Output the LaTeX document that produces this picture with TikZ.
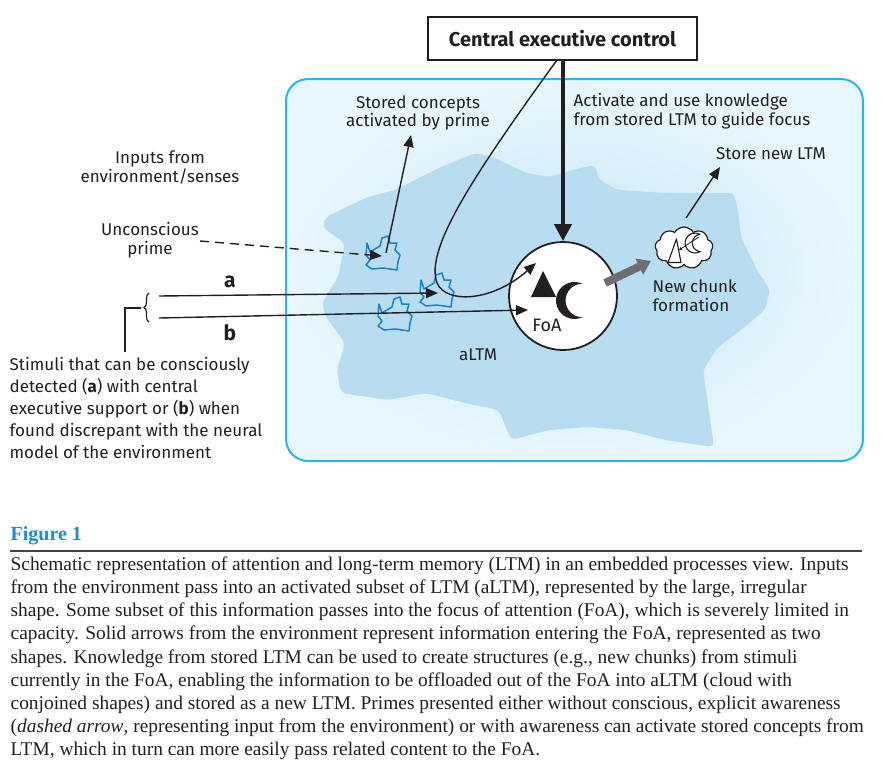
\documentclass[tikz,border=0pt]{standalone}
\usepackage{fontspec}
\setmainfont{Liberation Serif}
\newfontfamily\labelfont{Fira Sans}
\usetikzlibrary{arrows.meta, shapes.symbols, decorations.pathreplacing, positioning, calc}

\definecolor{boxcyan}{RGB}{43,181,232}
\definecolor{boxouter}{RGB}{232,247,253}
\definecolor{boxinner}{RGB}{200,230,246}
\definecolor{blobblue}{RGB}{184,220,240}
\definecolor{primeblue}{RGB}{27,132,198}
\definecolor{inkdark}{RGB}{35,31,32}
\definecolor{figblue}{RGB}{29,140,205}
\definecolor{chunkgray}{RGB}{109,110,112}

\begin{document}
\begin{tikzpicture}[
    x=1pt, y=-1pt,
    line width=1.3pt,
    every node/.style={inner sep=1pt, text=inkdark},
    lbl/.style={font=\labelfont\fontsize{17}{18.8}\selectfont, align=center},
    ceobox/.style={draw=inkdark, line width=1.5pt, minimum width=269pt, minimum height=43pt,
                   fill=white, font=\labelfont\bfseries\fontsize{20}{22}\selectfont},
    foacircle/.style={draw=inkdark, circle, line width=1.8pt, fill=white, minimum size=108pt, inner sep=0pt},
    chunkcloud/.style={draw=inkdark, cloud, cloud puffs=9, cloud puff arc=120, fill=white,
                       line width=1.2pt, minimum width=58pt, minimum height=42pt, inner sep=0pt},
    arrow/.style={draw=inkdark, -{Triangle[length=12pt, width=10pt]}, line width=1.4pt},
    dashedarrow/.style={arrow, dashed, dash pattern=on 9pt off 6pt},
    thickarr/.style={draw=inkdark, -{Triangle[length=17pt, width=17pt]}, line width=4pt},
    grayarr/.style={draw=chunkgray, -{Triangle[length=13pt, width=17pt]}, line width=8pt},
    primeline/.style={draw=primeblue, line width=1.5pt, line join=round},
    primeshape/.pic={
      \draw[primeline] (-16,-11) -- (-13,-2) -- (-3,-8) -- (-1,-16) -- (5,-18) -- (7,-11)
        -- (14,-11) -- (12,-4) -- (17,1) -- (15,8) -- (14,16) -- (0,14) -- (-11,15)
        -- (-17,11) -- (-13,6) -- (-17,1) -- cycle;
    }
]
\useasboundingbox (0,0) rectangle (884,774);

% ================= Background: LTM box and aLTM blob =================
\shade[inner color=boxinner, outer color=boxouter, rounded corners=22pt]
    (286,79) rectangle (863,461);
\draw[draw=boxcyan, line width=2pt, rounded corners=22pt] (286,79) rectangle (863,461);

\fill[blobblue, rounded corners=5pt]
    (326,217) -- (368,197) -- (395,190) -- (441,167) -- (476,153) -- (495,158)
    -- (526,173) -- (549,177) -- (580,168) -- (595,165) -- (599,180) -- (618,190)
    -- (665,193) -- (734,193) -- (738,210) -- (741,237) -- (757,270) -- (770,290)
    -- (765,310) -- (741,330) -- (718,347) -- (703,370) -- (707,397) -- (714,447)
    -- (665,440) -- (626,430) -- (588,427) -- (549,430) -- (511,440) -- (499,410)
    -- (465,403) -- (426,393) -- (388,400) -- (341,393) -- (337,370) -- (345,343)
    -- (326,317) -- (322,303) -- (338,277) -- (345,243) -- (322,227) -- cycle;

% ================= Labels =================
\node[ceobox] (ceo) at (562.5,38.5) {Central executive control};
\node[lbl] (stored) at (418,113) {Stored concepts\\activated by prime};
\node[lbl, align=left, anchor=west] (activate) at (572,111.5) {Activate and use knowledge\\from stored LTM to guide focus};
\node[lbl] (storenew) at (771,154) {Store new LTM};
\node[lbl] (inputs) at (160,167.5) {Inputs from\\environment/senses};
\node[lbl] (unconscious) at (150,240) {Unconscious\\prime};
\node[lbl, align=left, anchor=west] (newchunk) at (651,296) {New chunk\\formation};
\node[lbl] (altm) at (478,355) {aLTM};
\node[lbl, font=\labelfont\bfseries\fontsize{21}{24}\selectfont] (labela) at (230,282) {a};
\node[lbl, font=\labelfont\bfseries\fontsize{21}{24}\selectfont] (labelb) at (230,333) {b};
\node[lbl, align=left, anchor=north west, font=\labelfont\fontsize{17}{21.8}\selectfont]
    (stimuli) at (8,356) {Stimuli that can be consciously\\detected (\textbf{a}) with central\\executive support or (\textbf{b}) when\\found discrepant with the neural\\model of the environment};

% ================= Primes (blue shapes) =================
\coordinate (primeA) at (383,254);
\coordinate (primeB) at (437,291);
\coordinate (primeC) at (395,315);
\pic at (primeA) {primeshape};
\pic at (primeB) {primeshape};
\pic at (primeC) {primeshape};

% ================= FoA and chunk cloud =================
\node[foacircle] (foa) at (563,296) {};
\fill[inkdark] (543,271) -- (556,297) -- (531,297) -- cycle;
\fill[inkdark] (574.5,300.5) ++(-65:18.5) arc[start angle=-65, end angle=-295, radius=18.5]
    arc[start angle=90, end angle=270, radius=16.77] -- cycle;
\node[lbl, font=\labelfont\fontsize{18}{20}\selectfont] (foalabel) at (547,325) {FoA};

\node[chunkcloud] (cloud) at (684,248) {};
\draw[inkdark, line width=1.1pt, line join=round] (676.5,239) -- (681,262.5) -- (668,262.5) -- cycle;
\draw[inkdark, line width=1.1pt, fill=white] (695,243) ++(-60:10) arc[start angle=-60, end angle=-300, radius=10]
    arc[start angle=96.6, end angle=263.4, radius=8.72] -- cycle;
\coordinate (cloudfrom) at (699,237);
\coordinate (cloudto) at (679,250);
\draw[inkdark, line width=0.8pt, -{Triangle[length=3pt, width=3pt]}] (cloudfrom) -- (cloudto);

% ================= Inputs: brace and arrows a / b =================
\coordinate (bracetop) at (149,293);
\coordinate (bracebot) at (149,322);
\draw[inkdark, line width=1.2pt, decorate, decoration={brace, amplitude=5pt}] (bracebot) -- (bracetop);
\coordinate (stimcorner) at (125,308);
\coordinate (stimfoot) at (125,352);
\draw[inkdark, line width=1.3pt] (stimfoot) -- (stimcorner) -- (141,308);

\coordinate (ain) at (159,296);
\coordinate (bin) at (159,318);
\coordinate (foaB) at (528,310);
\draw[arrow] (ain) -- ($(primeB)+(1,2)$);
\draw[arrow] (bin) -- (foaB);

% Unconscious prime (dashed)
\coordinate (primein) at (200,241);
\draw[dashedarrow] (primein) -- ($(primeA)+(-1,2)$);

% Stored concept activation
\coordinate (storedtip) at (411,135);
\draw[arrow] ($(primeA)+(3,-1)$) -- (storedtip);

% ================= Central executive paths =================
\coordinate (ceoleft) at (557,60);
\coordinate (foaA) at (536,263);
\draw[arrow] (ceoleft) .. controls (470,180) and (425,250) .. (437,283)
    .. controls (446,304) and (492,302) .. (foaA);
\draw[thickarr] (ceo.south -| foa.north) -- (foa.north);

% New chunk formation and storage
\coordinate (grayfrom) at (605,283);
\coordinate (grayto) at (651,261);
\draw[grayarr] (grayfrom) -- (grayto);
\coordinate (storefrom) at (686,218);
\coordinate (storeto) at (720,167);
\draw[arrow] (storefrom) -- (storeto);

% ================= Caption =================
\node[anchor=west, inner sep=0pt, text=figblue, font=\fontsize{20}{22}\selectfont\bfseries] (figlabel) at (10,536) {Figure 1};
\coordinate (ruleleft) at (10,551);
\coordinate (ruleright) at (862,551);
\draw[inkdark!85, line width=1.3pt] (ruleleft) -- (ruleright);
\node[anchor=north west, inner sep=0pt, align=left, font=\fontsize{19.4}{23.2}\selectfont] (caption) at (10,556)
  {Schematic representation of attention and long-term memory (LTM) in an embedded processes view. Inputs\\
   from the environment pass into an activated subset of LTM (aLTM), represented by the large, irregular\\
   shape. Some subset of this information passes into the focus of attention (FoA), which is severely limited in\\
   capacity. Solid arrows from the environment represent information entering the FoA, represented as two\\
   shapes. Knowledge from stored LTM can be used to create structures (e.g., new chunks) from stimuli\\
   currently in the FoA, enabling the information to be offloaded out of the FoA into aLTM (cloud with\\
   conjoined shapes) and stored as a new LTM. Primes presented either without conscious, explicit awareness\\
   (\textit{dashed arrow}, representing input from the environment) or with awareness can activate stored concepts from\\
   LTM, which in turn can more easily pass related content to the FoA.};
\end{tikzpicture}
\end{document}
